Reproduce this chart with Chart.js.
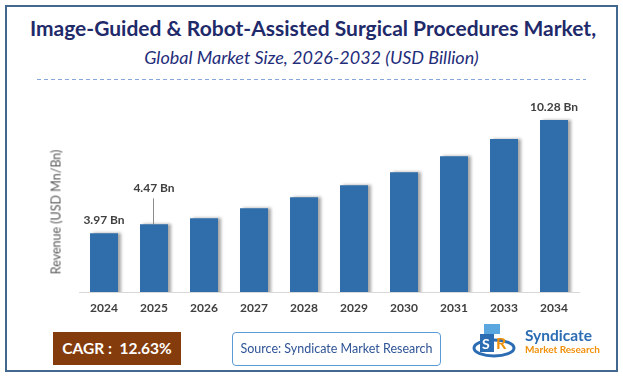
<!DOCTYPE html>
<html>
<head>
<meta charset="utf-8">
<script src="https://cdn.jsdelivr.net/npm/chart.js@4.4.1/dist/chart.umd.min.js"></script>
<style>
  html, body { margin: 0; padding: 0; background: #fff; }
  body { width: 623px; height: 376px; position: relative; overflow: hidden; font-family: Lato, 'Noto Sans', sans-serif; }
  .frame { position: absolute; left: 5px; top: 5px; width: 609px; height: 363px; border: 2px solid #43688f; }
  .title { position: absolute; left: 0; width: 626px; top: 15px; text-align: center; font-weight: bold; font-size: 21px; color: #1f2a6b; white-space: nowrap; }
  .subtitle { position: absolute; left: 0; width: 623px; top: 46px; text-align: center; font-style: italic; font-size: 18px; color: #1f2d7a; white-space: nowrap; }
  #wrap { position: absolute; left: 0; top: 0; width: 623px; height: 376px; }
  .ytitle { position: absolute; left: 56px; top: 212px; transform: translate(-50%, -50%) rotate(-90deg); font-size: 12.5px; color: #595959; white-space: nowrap; }
  .cagr { position: absolute; left: 53px; top: 332px; width: 128px; height: 33px; background: #843c0c; color: #fff; font-weight: bold; font-size: 15.5px; line-height: 33px; text-align: center; }
  .source { position: absolute; left: 232px; top: 332px; width: 207px; height: 32px; border: 1px solid #5b9bd5; border-radius: 4px; color: #2f5496; font-size: 12.5px; line-height: 32px; text-align: center; }
  .logo1 { position: absolute; left: 525px; top: 326px; font-weight: bold; font-size: 15.5px; color: #2b6cb3; }
  .logo2 { position: absolute; left: 525px; top: 343px; font-weight: bold; font-size: 10px; color: #f0900a; }
</style>
</head>
<body>
<div class="frame"></div>
<div class="title">Image-Guided &amp; Robot-Assisted Surgical Procedures Market,</div>
<div class="subtitle">Global Market Size, 2026-2032 (USD Billion)</div>
<svg style="position:absolute;left:0;top:0" width="623" height="90">
  <line x1="37" y1="79.5" x2="586" y2="79.5" stroke="#86a6dc" stroke-width="1" stroke-dasharray="4,3"/>
</svg>
<div id="wrap"><canvas id="myChart" width="623" height="376"></canvas></div>
<div class="ytitle">Revenue (USD Mn/Bn)</div>
<div class="cagr">CAGR :&nbsp; 12.63%</div>
<div class="source">Source: Syndicate Market Research</div>
<svg style="position:absolute;left:472px;top:321px" width="50" height="40">
  <ellipse cx="22" cy="27" rx="20" ry="8" fill="none" stroke="#2b6cb3" stroke-width="3"/>
  <rect x="12" y="3" width="16" height="10" fill="#5aa7e0"/>
  <rect x="8" y="13" width="14" height="18" fill="#2b6cb3"/>
  <text x="10" y="28" font-family="Lato" font-weight="bold" font-size="14" fill="#fff">S</text>
  <text x="24" y="28" font-family="Lato" font-weight="bold" font-size="16" fill="#f0900a">R</text>
</svg>
<div class="logo1">Syndicate</div>
<div class="logo2">Market Research</div>

<script>
// chart data
var years = ['2024', '2025', '2026', '2027', '2028', '2029', '2030', '2031', '2033', '2034'];
var revenue = [3.97, 4.47, 4.81, 5.37, 5.98, 6.65, 7.38, 8.27, 9.22, 10.28];
var labelledBars = [0, 1, 9]; // bars that get a value label
var raisedLabel = 1;          // this one sits higher with a leader line

Chart.defaults.font.family = 'Lato, "Noto Sans", sans-serif';

// soft shadow to the right of the bars
var barShadow = {
    id: 'barShadow',
    beforeDatasetsDraw: function (chart) {
        var ctx = chart.ctx;
        ctx.save();
        ctx.shadowColor = 'rgba(0,0,0,0.35)';
        ctx.shadowOffsetX = 3;
        ctx.shadowOffsetY = 0;
        ctx.shadowBlur = 3;
    },
    afterDatasetsDraw: function (chart) {
        chart.ctx.restore();
    }
};

// value labels above chosen bars
var valueLabels = {
    id: 'valueLabels',
    afterDraw: function (chart) {
        var ctx = chart.ctx;
        var meta = chart.getDatasetMeta(0);
        ctx.save();
        ctx.font = 'bold 12px Lato, "Noto Sans", sans-serif';
        ctx.fillStyle = '#404040';
        ctx.textAlign = 'center';
        ctx.textBaseline = 'middle';
        labelledBars.forEach(function (i) {
            var bar = meta.data[i];
            var txt = revenue[i].toFixed(2) + ' Bn';
            if (i === raisedLabel) {
                ctx.strokeStyle = '#8c8c8c';
                ctx.lineWidth = 1;
                ctx.beginPath();
                ctx.moveTo(Math.round(bar.x) - 0.5, bar.y - 26);
                ctx.lineTo(Math.round(bar.x) - 0.5, bar.y);
                ctx.stroke();
                ctx.fillText(txt, bar.x, bar.y - 36);
            } else {
                ctx.fillText(txt, bar.x, bar.y - 13);
            }
        });
        ctx.restore();
    }
};

var ctx = document.getElementById('myChart').getContext('2d');

var myChart = new Chart(ctx, {
    type: 'bar',
    data: {
        labels: years,
        datasets: [{
            data: revenue,
            backgroundColor: '#2f6eaa',
            borderWidth: 0,
            categoryPercentage: 1,
            barPercentage: 0.56
        }]
    },
    options: {
        responsive: false,
        animation: false,
        events: [],
        plugins: {
            legend: { display: false },
            tooltip: { enabled: false }
        },
        layout: {
            padding: { left: 79, right: 44, top: 100, bottom: 54 }
        },
        scales: {
            x: {
                grid: { display: false, drawTicks: false },
                border: { display: true, color: '#d9d9d9', width: 1 },
                ticks: { color: '#404040', font: { size: 12, weight: 'bold' }, padding: 9 },
                afterFit: function (scale) { scale.height = 30; }
            },
            y: {
                display: false,
                min: 0.7,
                max: 11.4
            }
        }
    },
    plugins: [barShadow, valueLabels]
});
</script>
</body>
</html>
